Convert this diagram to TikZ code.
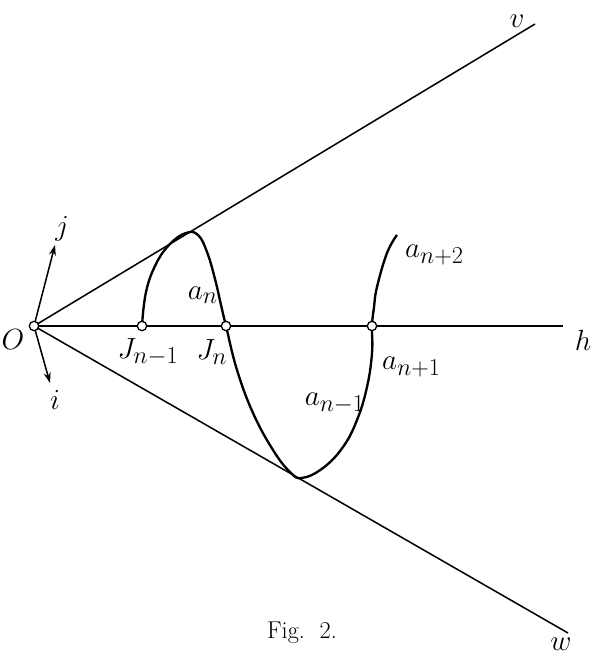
\documentclass[tikz,border=0pt]{standalone}
\usepackage{amsmath}
\usepackage{amssymb}
\usetikzlibrary{arrows.meta}
\tikzset{
  pt/.style={circle, draw, fill=white, line width=1.1pt, inner sep=0pt, minimum size=8pt},
  lbl/.style={font=\Huge},
  axis/.style={line width=1.3pt},
  arc/.style={line width=2pt}
}

\begin{document}
\begin{tikzpicture}[x=0.03cm, y=0.03cm]
\useasboundingbox (0,0) rectangle (593,657);

% Points on h
\coordinate (O) at (34, 331);
\coordinate (Jm1) at (142, 331);
\coordinate (Jn) at (226, 331);
\coordinate (An1) at (372, 331);
\coordinate (Hend) at (563, 331);
\coordinate (Vend) at (535, 633);
\coordinate (Wend) at (568, 24);
\coordinate (T1) at (186, 424);
\coordinate (T2) at (302, 179);
\coordinate (Aend) at (397, 422);
\coordinate (Jtip) at (55, 412);
\coordinate (Itip) at (50, 274);

% Lines
\draw[axis] (O) -- (Hend);
\draw[axis] (O) -- (Vend);
\draw[axis] (O) -- (Wend);
\draw[axis, -{Stealth[length=9pt, width=6pt]}] (O) -- (Jtip);
\draw[axis, -{Stealth[length=9pt, width=6pt]}] (O) -- (Itip);

% Curve
\draw[arc] plot[smooth, tension=0.7] coordinates {
  (Jm1) (146, 365) (156, 393) (170, 413) (T1) (198, 422) (207, 405)
  (215, 378) (221, 352) (Jn) (237, 287) (253, 244) (273, 207) (290, 185)
  (T2) (323, 189) (343, 210) (357, 237) (367, 270) (372, 304) (An1)
  (374, 350) (377, 370) (387, 404) (Aend)};

% Marked points
\node[pt] (o) at (O) {};
\node[pt] (jm1) at (Jm1) {};
\node[pt] (jn) at (Jn) {};
\node[pt] (an1) at (An1) {};

% Labels
\node[lbl] (lO) at (13, 317) {$O$};
\node[lbl] (lh) at (583, 317) {$h$};
\node[lbl] (lv) at (517, 636) {$v$};
\node[lbl] (lw) at (561, 13) {$w$};
\node[lbl] (lj) at (62, 428) {$j$};
\node[lbl] (li) at (55, 257) {$i$};
\node[lbl, anchor=east, inner sep=1pt] (lan) at (219, 362) {$a_n$};
\node[lbl] (ljm1) at (148, 305) {$J_{n-1}$};
\node[lbl] (ljn) at (212, 305) {$J_n$};
\node[lbl, anchor=west] (lan1) at (378, 290) {$a_{n+1}$};
\node[lbl, anchor=east, inner sep=1pt] (lanm1) at (366, 254) {$a_{n-1}$};
\node[lbl, anchor=west] (lan2) at (401, 402) {$a_{n+2}$};
\node[font=\huge] (cap) at (302, 24) {Fig.\ \ 2.};
\end{tikzpicture}
\end{document}
